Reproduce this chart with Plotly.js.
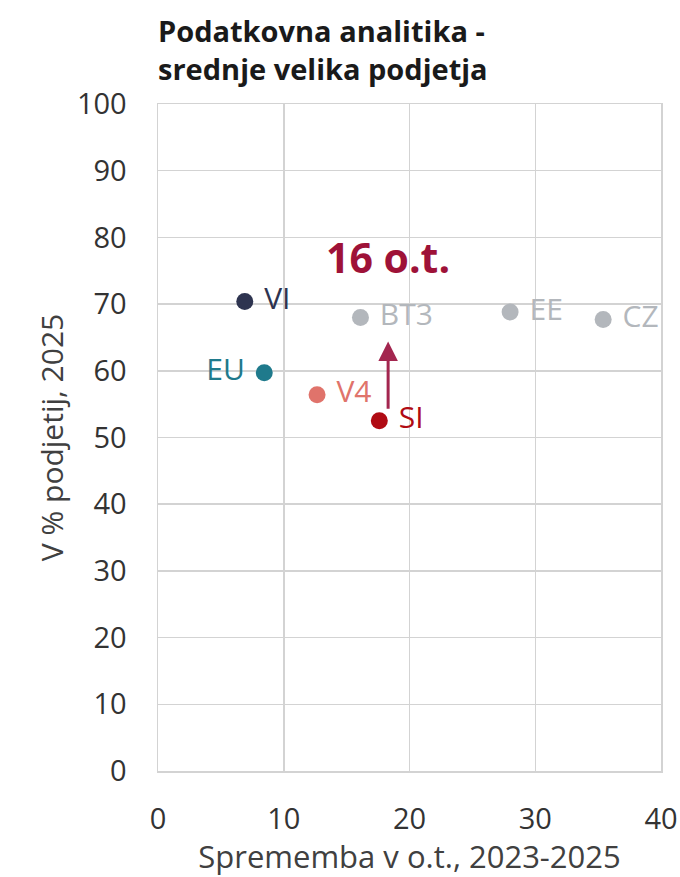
<!DOCTYPE html>
<html>
<head>
<meta charset="utf-8">
<script src="https://cdn.plot.ly/plotly-3.0.1.min.js"></script>
<style>html,body{margin:0;padding:0;background:#fff;}#chart{width:680px;height:877px;}</style>
</head>
<body>
<div id="chart"></div>
<script>
// Data
const countries = ['VI', 'EU', 'BT3', 'EE', 'CZ', 'V4', 'SI'];
const changePP = [6.9, 8.45, 16.1, 28.0, 35.4, 12.65, 17.6];   // Sprememba v o.t., 2023-2025
const share2025 = [70.4, 59.7, 68.0, 68.8, 67.7, 56.4, 52.5];  // V % podjetij, 2025
const pointColors = ['#2e3450', '#1f7a8c', '#b3b7bc', '#b3b7bc', '#b3b7bc', '#e0736b', '#b00b14'];
const labelSide = ['middle right', 'middle left', 'middle right', 'middle right', 'middle right', 'middle right', 'middle right'];
const xTicks = [0, 10, 20, 30, 40];
const yTicks = [0, 10, 20, 30, 40, 50, 60, 70, 80, 90, 100];
// Arrow annotation (gap SI -> BT3)
const arrowX = 18.3;
const arrowFrom = 54.1;
const arrowTo = 64.4;
const gapLabel = '16 o.t.';
const gapLabelPos = [18.3, 77.1];

const FONT = '"Open Sans", Roboto, "Liberation Sans", Arial, sans-serif';
const NB = '\u00a0';

const trace = {
  type: 'scatter',
  mode: 'markers+text',
  x: changePP,
  y: share2025,
  text: countries.map((c, i) => labelSide[i] === 'middle left' ? c + NB : NB + c),
  textposition: labelSide,
  textfont: {family: FONT, size: 30, color: pointColors},
  marker: {size: 17, color: pointColors},
  cliponaxis: false,
  hoverinfo: 'skip',
  showlegend: false
};

const layout = {
  width: 680,
  height: 877,
  margin: {l: 158, r: 19, t: 104, b: 106},
  paper_bgcolor: '#ffffff',
  plot_bgcolor: '#ffffff',
  font: {family: FONT, color: '#333333'},
  title: {
    text: '<b>Podatkovna analitika -<br>srednje velika podjetja</b>',
    font: {family: FONT, size: 29, color: '#1a1a1a'},
    xref: 'paper', x: 0, xanchor: 'left',
    yref: 'container', y: 0.952, yanchor: 'middle'
  },
  xaxis: {
    range: [0, 40],
    tickvals: xTicks,
    ticktext: xTicks.map(String),
    showgrid: true, gridcolor: '#d3d3d3', gridwidth: 1.5,
    showline: true, linecolor: '#d3d3d3', linewidth: 1.5, mirror: true,
    zeroline: false,
    ticks: '', ticklabelstandoff: 22,
    tickfont: {family: FONT, size: 29, color: '#333333'},
    title: {text: 'Sprememba v o.t., 2023-2025', font: {family: FONT, size: 31, color: '#404040'}, standoff: 6},
    fixedrange: true
  },
  yaxis: {
    range: [0, 100],
    tickvals: yTicks,
    ticktext: yTicks.map(String),
    showgrid: true, gridcolor: '#d3d3d3', gridwidth: 1.5,
    showline: true, linecolor: '#d3d3d3', linewidth: 1.5, mirror: true,
    zeroline: false,
    ticks: '', ticklabelstandoff: 24,
    tickfont: {family: FONT, size: 29, color: '#333333'},
    title: {text: 'V % podjetij, 2025' + NB.repeat(6), font: {family: FONT, size: 30, color: '#404040'}, standoff: 4},
    fixedrange: true
  },
  annotations: [
    {
      x: arrowX, y: arrowTo, ax: arrowX, ay: arrowFrom,
      xref: 'x', yref: 'y', axref: 'x', ayref: 'y',
      text: '', showarrow: true,
      arrowhead: 2, arrowsize: 1.3, arrowwidth: 3, arrowcolor: '#a3264f'
    },
    {
      x: gapLabelPos[0], y: gapLabelPos[1], xref: 'x', yref: 'y',
      text: '<b>' + gapLabel + '</b>', showarrow: false,
      font: {family: FONT, size: 41, color: '#9e1238'},
      xanchor: 'center', yanchor: 'middle'
    }
  ]
};

Plotly.newPlot('chart', [trace], layout, {displayModeBar: false, staticPlot: true});
</script>
</body>
</html>
